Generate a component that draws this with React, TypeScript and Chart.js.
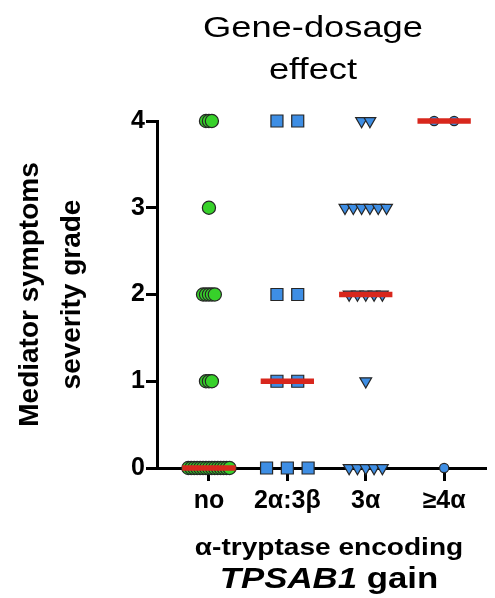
import React, { useEffect, useRef } from 'react';
import { Chart, registerables } from 'chart.js';

Chart.register(...registerables);

// ---- data ----
const categories = ['no', '2α:3β', '3α', '≥4α'];
const yTickValues = [0, 1, 2, 3, 4];
const noGainGrades = [4, 4, 4, 3, 2, 2, 2, 2, 2, 1, 1, 1, 0, 0, 0, 0, 0, 0, 0, 0, 0, 0, 0, 0, 0, 0, 0];
const alpha2beta3Grades = [4, 4, 2, 2, 1, 1, 0, 0, 0];
const alpha3Grades = [4, 4, 3, 3, 3, 3, 3, 3, 2, 2, 2, 2, 2, 1, 0, 0, 0, 0, 0];
const alpha4Grades = [4, 4, 0];
const chartTitle = ['Gene-dosage', 'effect'];
const yTitle = ['Mediator symptoms', 'severity grade'];
const xTitleLine1 = 'α-tryptase encoding';
const xTitleGene = 'TPSAB1';
const xTitleRest = ' gain';

const FONT = '"Liberation Sans", Arial, Helvetica, sans-serif';

function spread(values: number[], cat: number, step: number) {
  const counts = new Map<number, number>();
  values.forEach((v) => counts.set(v, (counts.get(v) || 0) + 1));
  const seen = new Map<number, number>();
  return values.map((v) => {
    const n = counts.get(v) as number;
    const i = seen.get(v) || 0;
    seen.set(v, i + 1);
    return { x: cat + (i - (n - 1) / 2) * step, y: v };
  });
}

function median(values: number[]) {
  const s = [...values].sort((a, b) => a - b);
  const m = Math.floor(s.length / 2);
  return s.length % 2 ? s[m] : (s[m - 1] + s[m]) / 2;
}

const groups = [
  { values: noGainGrades, step: 0.0375, pointStyle: 'circle', radius: 6.6, rotation: 0, bg: '#37d12a' },
  { values: alpha2beta3Grades, step: 0.265, pointStyle: 'rect', radius: 8.5, rotation: 0, bg: '#3e8ee4' },
  { values: alpha3Grades, step: 0.106, pointStyle: 'triangle', radius: 6.8, rotation: 180, bg: '#3e8ee4' },
  { values: alpha4Grades, step: 0.255, pointStyle: 'circle', radius: 4.6, rotation: 0, bg: '#3e8ee4' },
];

function stretchedText(ctx: CanvasRenderingContext2D, text: string, x: number, y: number, sx: number) {
  ctx.save();
  ctx.translate(x, y);
  ctx.scale(sx, 1);
  ctx.fillText(text, 0, 0);
  ctx.restore();
}

const textPlugin = {
  id: 'textLayer',
  afterDraw(chart: any) {
    const ctx = chart.ctx as CanvasRenderingContext2D;
    const area = chart.chartArea;
    ctx.save();
    ctx.fillStyle = '#000';
    ctx.textBaseline = 'alphabetic';
    ctx.textAlign = 'center';

    // chart title
    ctx.font = `30px ${FONT}`;
    const tx = area.left + 156;
    stretchedText(ctx, chartTitle[0], tx, 37, 1.21);
    stretchedText(ctx, chartTitle[1], tx, 79, 1.21);

    // x-axis title
    const cx = area.left + 172;
    ctx.font = `bold 24px ${FONT}`;
    stretchedText(ctx, xTitleLine1, cx, 555, 1.17);

    const sx = 1.2;
    ctx.textAlign = 'left';
    ctx.font = `italic bold 29px ${FONT}`;
    const w1 = ctx.measureText(xTitleGene).width * sx;
    ctx.font = `bold 29px ${FONT}`;
    const w2 = ctx.measureText(xTitleRest).width * sx;
    const start = cx - (w1 + w2) / 2;
    ctx.font = `italic bold 29px ${FONT}`;
    stretchedText(ctx, xTitleGene, start, 588, sx);
    ctx.font = `bold 29px ${FONT}`;
    stretchedText(ctx, xTitleRest, start + w1, 588, sx);
    ctx.restore();
  },
};

export default function App() {
  const ref = useRef<HTMLCanvasElement>(null);

  useEffect(() => {
    if (!ref.current) return;
    const pointSets = groups.map((g, i) => ({
      type: 'scatter' as const,
      data: spread(g.values, i + 1, g.step),
      pointStyle: g.pointStyle,
      pointRadius: g.radius,
      pointRotation: g.rotation,
      pointBackgroundColor: g.bg,
      pointBorderColor: '#262626',
      pointBorderWidth: 1.2,
      showLine: false,
      clip: false,
      order: 1,
    }));
    const medianSets = groups.map((g, i) => {
      const m = median(g.values);
      return {
        type: 'line' as const,
        data: [
          { x: i + 1 - 0.34, y: m },
          { x: i + 1 + 0.34, y: m },
        ],
        borderColor: '#d8271d',
        borderWidth: 5.5,
        pointRadius: 0,
        clip: false,
        order: 0,
      };
    });

    const chart = new Chart(ref.current, {
      type: 'scatter',
      data: { datasets: [...medianSets, ...pointSets] as any },
      options: {
        animation: false,
        responsive: false,
        layout: { padding: { top: 121, right: 3, left: 0, bottom: 0 } },
        plugins: { legend: { display: false }, tooltip: { enabled: false }, title: { display: false } },
        scales: {
          x: {
            type: 'linear',
            min: 0.3375,
            max: 4.525,
            afterBuildTicks: (s: any) => {
              s.ticks = categories.map((_, i) => ({ value: i + 1 }));
            },
            afterFit: (s: any) => {
              s.height = 130;
            },
            ticks: {
              autoSkip: false,
              maxRotation: 0,
              padding: 5,
              color: '#000',
              font: { family: FONT, size: 25, weight: 'bold' },
              callback: (v: any) => categories[Math.round(Number(v)) - 1] ?? '',
            },
            grid: { drawOnChartArea: false, drawTicks: true, tickLength: 13, color: '#000', lineWidth: 3 },
            border: { display: true, color: '#000', width: 3 },
          },
          y: {
            type: 'linear',
            min: 0,
            max: 4,
            afterBuildTicks: (s: any) => {
              s.ticks = yTickValues.map((v) => ({ value: v }));
            },
            afterFit: (s: any) => {
              s.width = 157;
            },
            ticks: {
              padding: 1,
              color: '#000',
              font: { family: FONT, size: 25, weight: 'bold' },
            },
            grid: { drawOnChartArea: false, drawTicks: true, tickLength: 11, color: '#000', lineWidth: 3 },
            border: { display: true, color: '#000', width: 3 },
            title: {
              display: true,
              text: yTitle,
              color: '#000',
              font: { family: FONT, size: 28, weight: 'bold', lineHeight: 1.48 },
              padding: { top: 10, bottom: 0 },
            },
          },
        },
      },
      plugins: [textPlugin],
    } as any);
    return () => chart.destroy();
  }, []);

  return (
    <div style={{ position: 'absolute', left: 0, top: 0, width: 495, height: 598 }}>
      <canvas ref={ref} width={495} height={598} style={{ display: 'block' }} />
    </div>
  );
}
